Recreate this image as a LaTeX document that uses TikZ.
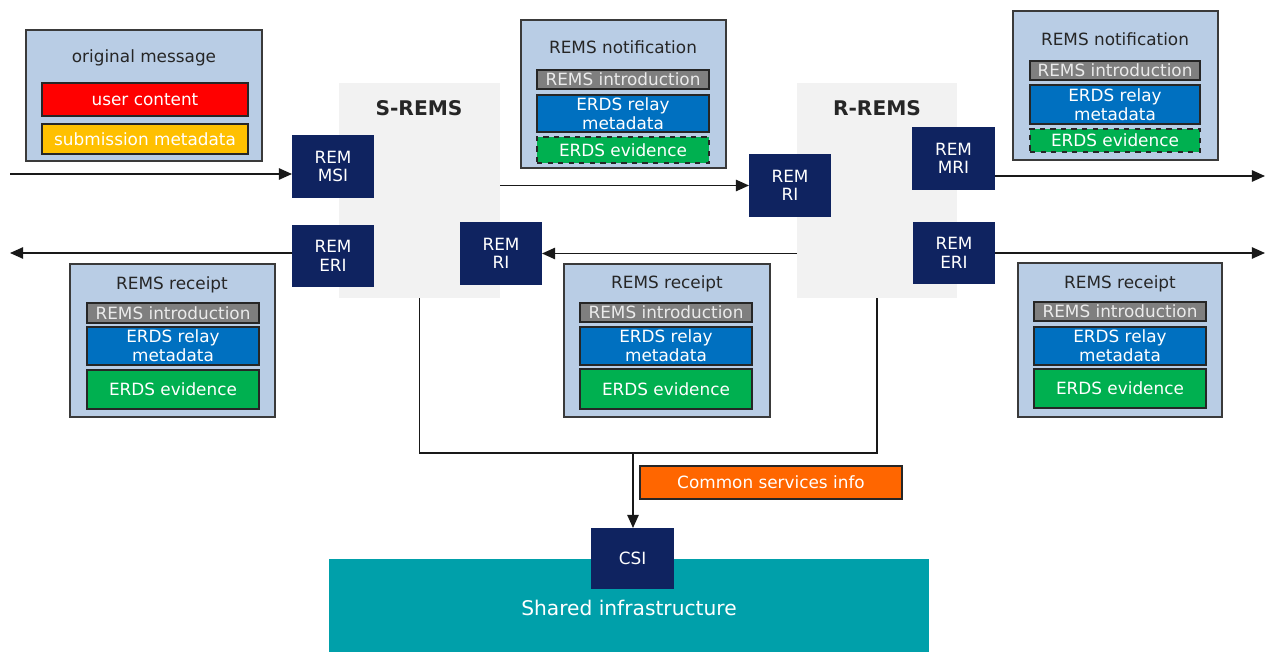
\documentclass[tikz,border=0pt]{standalone}
\usepackage{fontspec}
\setmainfont{DejaVu Sans}
\usetikzlibrary{arrows.meta}
\definecolor{lblue}{HTML}{B9CDE5}
\definecolor{navy}{HTML}{0F2360}
\definecolor{igray}{HTML}{7F7F7F}
\definecolor{rblue}{HTML}{0070C0}
\definecolor{egreen}{HTML}{00B050}
\definecolor{cred}{HTML}{FF0000}
\definecolor{cyel}{HTML}{FFC000}
\definecolor{corange}{HTML}{FF6600}
\definecolor{cteal}{HTML}{00A0AA}
\definecolor{area}{HTML}{F2F2F2}
\definecolor{dtext}{HTML}{262626}
\definecolor{bord}{HTML}{3A3A3A}
\newcommand\mkbox[7]{%
  \pgfmathsetmacro\myw{(#4-#2)*0.02}%
  \pgfmathsetmacro\myh{(#5-#3)*0.02}%
  \node[#6, minimum width=\myw cm, minimum height=\myh cm, inner sep=0pt, outer sep=0pt] (#1) at ({(#2+#4)/2},{(#3+#5)/2}) {#7};}
\begin{document}
\begin{tikzpicture}[x=0.02cm, y=-0.02cm,
  font=\fontsize{9.6}{10.6}\selectfont,
  cont/.style={draw=bord, line width=0.9pt, fill=lblue},
  title/.style={text=dtext, inner sep=0pt},
  part/.style={draw=black!85, line width=0.8pt, text=white, align=center},
  intro/.style={part, fill=igray, text=white!92!black},
  relay/.style={part, fill=rblue},
  evid/.style={part, fill=egreen},
  evidd/.style={part, fill=egreen, dashed},
  rem/.style={fill=navy, text=white, align=center},
  grayarea/.style={fill=area},
  lbl/.style={font=\fontsize{11.5}{13}\selectfont\bfseries, text=dtext, inner sep=0pt},
  conn/.style={line width=0.9pt, draw=black!90},
  arr/.style={conn, -{Triangle[length=7.5pt,width=6.5pt]}}]
\useasboundingbox (0,0) rectangle (1265,652);
% gray areas
\mkbox{srems}{339}{83}{500}{298}{grayarea}{}
\mkbox{rrems}{797}{83}{957}{298}{grayarea}{}
\node[lbl] (sremsl) at (419,108) {S-REMS};
\node[lbl] (rremsl) at (877,108) {R-REMS};
% shared infrastructure
\mkbox{shared}{329}{559}{929}{665}{fill=cteal}{}
\node[text=white, font=\fontsize{11.5}{13}\selectfont, inner sep=0pt] (sharedl) at (629,608) {Shared infrastructure};
% original message
\mkbox{om}{26}{30}{262}{161}{cont}{}
\node[title] (omt) at (144,58) {original message};
\mkbox{uc}{42}{83}{248}{116}{part,fill=cred}{user content}
\mkbox{sm}{42}{124}{248}{154}{part,fill=cyel}{submission metadata}
% notification 1
\mkbox{n1}{521}{20}{726}{168}{cont}{}
\node[title] (n1t) at (623,47) {REMS notification};
\mkbox{n1i}{537}{70}{709}{89}{intro}{REMS introduction}
\mkbox{n1r}{537}{95}{709}{132}{relay}{ERDS relay\\metadata}
\mkbox{n1e}{537}{137}{709}{163}{evidd}{ERDS evidence}
% notification 2
\mkbox{n2}{1013}{11}{1218}{160}{cont}{}
\node[title] (n2t) at (1115,39) {REMS notification};
\mkbox{n2i}{1030}{61}{1200}{80}{intro}{REMS introduction}
\mkbox{n2r}{1030}{85}{1200}{124}{relay}{ERDS relay\\metadata}
\mkbox{n2e}{1030}{129}{1200}{152}{evidd}{ERDS evidence}
% receipt 1
\mkbox{r1}{70}{264}{275}{417}{cont}{}
\node[title] (r1t) at (172,285) {REMS receipt};
\mkbox{r1i}{87}{303}{259}{323}{intro}{REMS introduction}
\mkbox{r1r}{87}{327}{259}{365}{relay}{ERDS relay\\metadata}
\mkbox{r1e}{87}{370}{259}{409}{evid}{ERDS evidence}
% receipt 2
\mkbox{r2}{564}{264}{770}{417}{cont}{}
\node[title] (r2t) at (667,284) {REMS receipt};
\mkbox{r2i}{580}{303}{752}{322}{intro}{REMS introduction}
\mkbox{r2r}{580}{327}{752}{365}{relay}{ERDS relay\\metadata}
\mkbox{r2e}{580}{369}{752}{409}{evid}{ERDS evidence}
% receipt 3
\mkbox{r3}{1018}{263}{1222}{417}{cont}{}
\node[title] (r3t) at (1120,284) {REMS receipt};
\mkbox{r3i}{1034}{302}{1206}{321}{intro}{REMS introduction}
\mkbox{r3r}{1034}{327}{1206}{365}{relay}{ERDS relay\\metadata}
\mkbox{r3e}{1034}{369}{1206}{408}{evid}{ERDS evidence}
% common services info
\mkbox{csinfo}{640}{466}{902}{499}{part,fill=corange}{Common services info}
% REM interfaces
\mkbox{msi}{292}{135}{374}{198}{rem}{REM\\MSI}
\mkbox{leri}{292}{225}{374}{287}{rem}{REM\\ERI}
\mkbox{lri}{460}{222}{542}{285}{rem}{REM\\RI}
\mkbox{rri}{749}{154}{831}{217}{rem}{REM\\RI}
\mkbox{mri}{912}{127}{995}{190}{rem}{REM\\MRI}
\mkbox{reri}{913}{222}{995}{284}{rem}{REM\\ERI}
\mkbox{csi}{591}{528}{674}{589}{rem}{CSI}
% connectors
\coordinate (inL) at (10,174);
\coordinate (outL) at (10,253);
\coordinate (outR1) at (1265,176);
\coordinate (outR2) at (1265,253);
\coordinate (jn) at (633,453);
\draw[arr] (inL) -- (inL -| msi.west);
\draw[arr] (rri.west -| srems.east) -- (rri.west);
\draw[arr] (outR1 -| mri.east) -- (outR1);
\draw[arr] (outR2 -| reri.east) -- (outR2);
\draw[arr] (rrems.west |- lri.east) -- (lri.east);
\draw[arr] (outL -| leri.west) -- (outL);
\draw[conn] (srems.south) |- (jn) -| (rrems.south);
\draw[arr] (jn) -- (jn |- csi.north);
\end{tikzpicture}
\end{document}
